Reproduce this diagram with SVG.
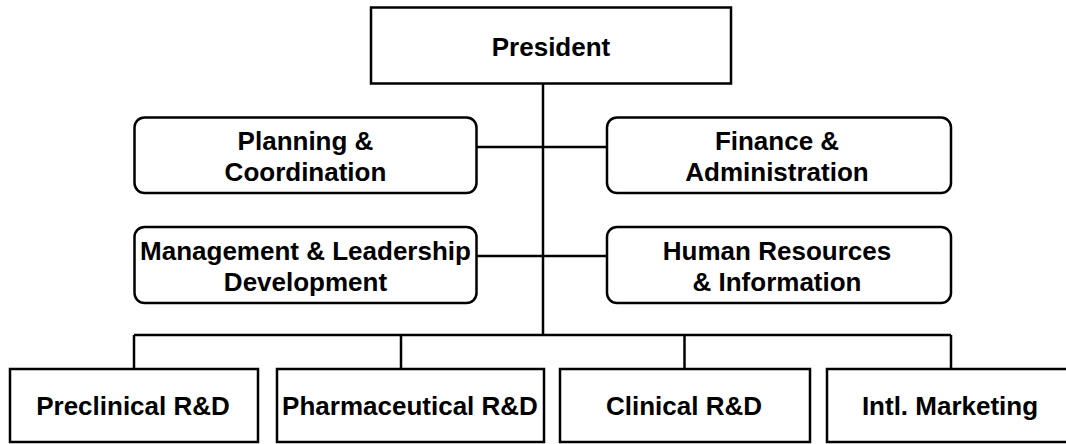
<svg xmlns="http://www.w3.org/2000/svg" width="1066" height="444" viewBox="0 0 1066 444">
<style>
.box{fill:#fff;stroke:#000;stroke-width:2.5}
.t{font-family:"Liberation Sans",Arial,sans-serif;font-weight:bold;font-size:26px;fill:#000;text-anchor:middle}
.c{stroke:#000;stroke-width:2.5;fill:none}
</style>
<rect width="1066" height="444" fill="#fff"/>
<g id="connectors">
<line class="c" x1="543" y1="83" x2="543" y2="335"/>
<line class="c" x1="476" y1="147" x2="607" y2="147"/>
<line class="c" x1="476" y1="256" x2="607" y2="256"/>
<line class="c" x1="134" y1="335" x2="951" y2="335"/>
<line class="c" x1="134" y1="335" x2="134" y2="369"/>
<line class="c" x1="401" y1="335" x2="401" y2="369"/>
<line class="c" x1="684.5" y1="335" x2="684.5" y2="369"/>
<line class="c" x1="951" y1="335" x2="951" y2="369"/>
</g>
<g id="president"><rect class="box" x="371" y="7.5" width="360" height="76"/><text class="t" x="551" y="55.5">President</text></g>
<g id="planning"><rect class="box" x="134.5" y="117.5" width="342" height="75.5" rx="10"/><text class="t" x="305.5" y="150">Planning &amp;</text><text class="t" x="305.5" y="180.5">Coordination</text></g>
<g id="finance"><rect class="box" x="607" y="117.5" width="344" height="75.5" rx="10"/><text class="t" x="777" y="150">Finance &amp;</text><text class="t" x="777" y="180.5">Administration</text></g>
<g id="management"><rect class="box" x="134.5" y="227" width="342" height="76" rx="10"/><text class="t" x="305.5" y="260">Management &amp; Leadership</text><text class="t" x="305.5" y="290.5">Development</text></g>
<g id="hr"><rect class="box" x="607" y="227" width="344" height="76" rx="10"/><text class="t" x="777" y="260">Human Resources</text><text class="t" x="777" y="290.5">&amp; Information</text></g>
<g id="preclinical"><rect class="box" x="10" y="369" width="248" height="73"/><text class="t" x="133" y="415">Preclinical R&amp;D</text></g>
<g id="pharma"><rect class="box" x="277" y="369" width="267" height="73"/><text class="t" x="410" y="415">Pharmaceutical R&amp;D</text></g>
<g id="clinical"><rect class="box" x="560" y="369" width="250" height="73"/><text class="t" x="684" y="415">Clinical R&amp;D</text></g>
<g id="intl"><rect class="box" x="827" y="369" width="250" height="73"/><text class="t" x="950" y="415">Intl. Marketing</text></g>
</svg>
